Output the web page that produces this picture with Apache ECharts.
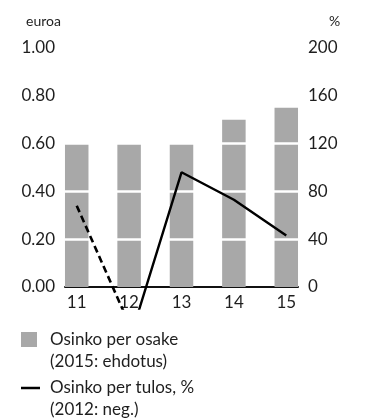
<!DOCTYPE html>
<html>
<head>
<meta charset="utf-8">
<script src="https://cdn.jsdelivr.net/npm/echarts@6/dist/echarts.min.js"></script>
<style>
  html, body { margin: 0; padding: 0; background: #fff; }
  #chart { width: 374px; height: 419px; }
</style>
</head>
<body>
<div id="chart"></div>
<script>
// Years shown on the horizontal axis
const years = [11, 12, 13, 14, 15];
// Dividend per share, euros
const dividendPerShare = [0.60, 0.60, 0.60, 0.70, 0.75];
// Payout ratio, %: the 2011–2012 stretch is drawn dashed (2012 negative)
const payoutDashed = [68, -31, null, null, null];
const payoutSolid = [null, -46, 96, 73, 43];
// Tick labels of both vertical axes
const euroTicks = [0, 0.2, 0.4, 0.6, 0.8, 1.0];
const percentTicks = [0, 40, 80, 120, 160, 200];

const barName = 'Osinko per osake';
const lineName = 'Osinko per tulos, %';
const legendNotes = {
  [barName]: '(2015: ehdotus)',
  [lineName]: '(2012: neg.)'
};

const FONT = 'Lato, "Liberation Sans", sans-serif';
const TEXT = '#1e1e1e';
const BAR = '#a8a8a8';

const pairs = (vals) => years.map((y, i) => [y, vals[i]]).filter(p => p[1] !== null);

// half a bar's width in year units, so the bars touch the plot's edges
const xPad = 0.224;
const euroMin = -0.09;
const percentMin = euroMin * percentTicks[percentTicks.length - 1] / euroTicks[euroTicks.length - 1];

const chart = echarts.init(document.getElementById('chart'), null, { renderer: 'canvas' });

chart.setOption({
  animation: false,
  backgroundColor: '#fff',
  textStyle: { fontFamily: FONT, color: TEXT },
  grid: { left: 65, right: 76, top: 48, bottom: 110.5 },
  xAxis: {
    type: 'value',
    min: years[0] - xPad,
    max: years[years.length - 1] + xPad,
    splitLine: { show: false },
    axisTick: { show: false },
    axisLine: { show: true, onZero: true, lineStyle: { color: '#111', width: 2 } },
    axisLabel: {
      customValues: years,
      fontFamily: FONT, fontSize: 17, color: TEXT, margin: -14,
      formatter: v => String(v)
    }
  },
  yAxis: [
    {
      type: 'value',
      min: euroMin,
      max: euroTicks[euroTicks.length - 1],
      name: 'euroa',
      nameLocation: 'end',
      nameGap: 20,
      nameTextStyle: { fontFamily: FONT, fontSize: 14, color: TEXT, align: 'right', padding: [0, 4, 0, 0] },
      splitLine: { show: false },
      axisLine: { show: false },
      axisTick: { show: false },
      axisLabel: {
        customValues: euroTicks,
        fontFamily: FONT, fontSize: 17, color: TEXT, margin: 10,
        formatter: v => v.toFixed(2)
      }
    },
    {
      type: 'value',
      position: 'right',
      min: percentMin,
      max: percentTicks[percentTicks.length - 1],
      name: '%',
      nameLocation: 'end',
      nameGap: 20,
      nameTextStyle: { fontFamily: FONT, fontSize: 14, color: TEXT, align: 'left', padding: [0, 0, 0, 31] },
      splitLine: { show: false },
      axisLine: { show: false },
      axisTick: { show: false },
      axisLabel: {
        customValues: percentTicks,
        fontFamily: FONT, fontSize: 17, color: TEXT, margin: 10,
        formatter: v => String(v)
      }
    }
  ],
  legend: [
    {
      data: [{ name: barName, icon: 'rect' }],
      orient: 'vertical',
      left: 21, top: 306.5, padding: 0,
      itemWidth: 16, itemHeight: 15,
      formatter: n => '\n' + n + '\n' + legendNotes[n],
      textStyle: { fontFamily: FONT, fontSize: 17, color: TEXT, lineHeight: 22, padding: [0, 0, 0, 8] }
    },
    {
      data: [{ name: lineName, icon: 'rect' }],
      orient: 'vertical',
      left: 21, top: 355, padding: 0,
      itemWidth: 19, itemHeight: 2.5,
      formatter: n => '\n' + n + '\n' + legendNotes[n],
      textStyle: { fontFamily: FONT, fontSize: 17, color: TEXT, lineHeight: 22, padding: [0, 0, 0, 5] }
    }
  ],
  series: [
    {
      name: barName,
      type: 'bar',
      yAxisIndex: 0,
      barWidth: 23.5,
      color: BAR,
      itemStyle: { color: BAR },
      data: pairs(dividendPerShare),
      z: 2,
      // white gridlines cut across the bars
      markLine: {
        silent: true,
        symbol: ['none', 'none'],
        label: { show: false },
        lineStyle: { color: '#fff', width: 2.5, type: 'solid' },
        data: euroTicks.filter(v => v > 0).map(v => ({ yAxis: v }))
      }
    },
    {
      name: lineName + ' 2011–2012',
      type: 'line',
      yAxisIndex: 1,
      symbol: 'none',
      color: '#000',
      z: 5,
      lineStyle: { color: '#000', width: 2.6, type: [7, 4] },
      data: pairs(payoutDashed)
    },
    {
      name: lineName,
      type: 'line',
      yAxisIndex: 1,
      symbol: 'none',
      color: '#000',
      itemStyle: { color: '#000' },
      z: 5,
      lineStyle: { color: '#000', width: 2.4 },
      data: pairs(payoutSolid)
    }
  ]
});
</script>
</body>
</html>
